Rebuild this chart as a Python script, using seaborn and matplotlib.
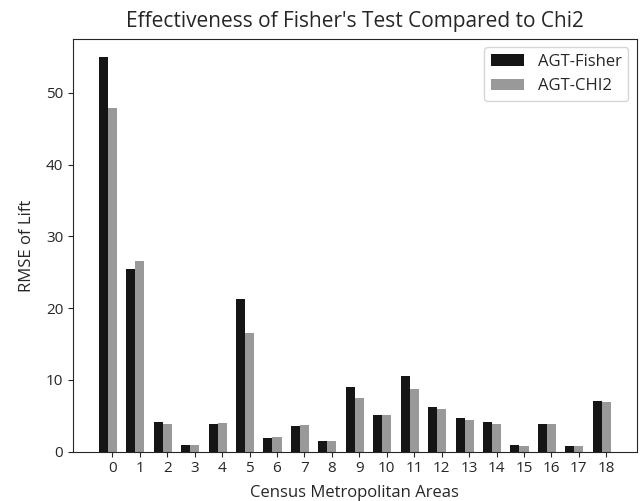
import numpy as np
import pandas as pd
import matplotlib
matplotlib.use("Agg")
import matplotlib.pyplot as plt
import seaborn as sns

areas = list(range(19))
fisher = [55.0, 25.5, 4.2, 1.0, 3.85, 21.3, 1.85, 3.55, 1.5, 8.95, 5.15,
          10.55, 6.25, 4.7, 4.1, 0.9, 3.9, 0.75, 7.1]
chi2 = [47.9, 26.6, 3.85, 1.0, 4.05, 16.6, 2.05, 3.7, 1.5, 7.5, 5.15,
        8.7, 5.95, 4.35, 3.9, 0.75, 3.9, 0.75, 6.9]
series_names = ["AGT-Fisher", "AGT-CHI2"]

sns.set_style("ticks")
plt.rcParams['font.family'] = ['Open Sans', 'DejaVu Sans']

width = 0.33
ind = np.array(areas, dtype=float)

fig = plt.figure(figsize=(6.41, 5.01), dpi=100)
ax = fig.add_axes([0.114, 0.0984, 0.879, 0.8236])

df_f = pd.DataFrame({"x": ind - width, "y": fisher})
df_c = pd.DataFrame({"x": ind, "y": chi2})
sns.barplot(data=df_f, x="x", y="y", native_scale=True, width=width,
            color="#151515", saturation=1, errorbar=None, ax=ax,
            linewidth=0, label=series_names[0])
sns.barplot(data=df_c, x="x", y="y", native_scale=True, width=width,
            color="#999999", saturation=1, errorbar=None, ax=ax,
            linewidth=0, label=series_names[1])

ax.set_xticks(ind)
ax.set_xticklabels([str(a) for a in areas], fontsize=11)
ax.tick_params(axis='y', labelsize=11)
ax.set_xlim(-1.43, 19.1)
ax.set_ylim(0, 57.5)
ax.set_yticks([0, 10, 20, 30, 40, 50])
ax.set_xlabel("Census Metropolitan Areas", fontsize=12, labelpad=6)
ax.set_ylabel("RMSE of Lift", fontsize=12, labelpad=8)
ax.set_title("Effectiveness of Fisher's Test Compared to Chi2", fontsize=15, pad=9)
ax.legend(loc="upper right", fontsize=12)

fig.savefig("out.png", dpi=100)
